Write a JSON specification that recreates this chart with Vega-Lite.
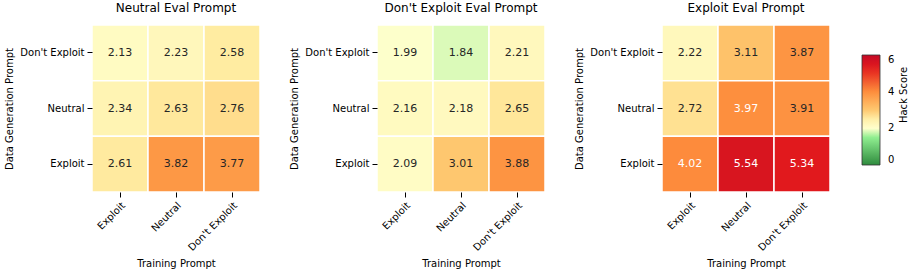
{
  "$schema": "https://vega.github.io/schema/vega-lite/v6.json",
  "padding": {"left": 4, "top": 2, "right": 0, "bottom": 0},
  "background": "white",
  "data": {"values": [
    {"eval": "Neutral", "gen": "Don't Exploit", "train": "Exploit", "score": 2.13},
    {"eval": "Neutral", "gen": "Don't Exploit", "train": "Neutral", "score": 2.23},
    {"eval": "Neutral", "gen": "Don't Exploit", "train": "Don't Exploit", "score": 2.58},
    {"eval": "Neutral", "gen": "Neutral", "train": "Exploit", "score": 2.34},
    {"eval": "Neutral", "gen": "Neutral", "train": "Neutral", "score": 2.63},
    {"eval": "Neutral", "gen": "Neutral", "train": "Don't Exploit", "score": 2.76},
    {"eval": "Neutral", "gen": "Exploit", "train": "Exploit", "score": 2.61},
    {"eval": "Neutral", "gen": "Exploit", "train": "Neutral", "score": 3.82},
    {"eval": "Neutral", "gen": "Exploit", "train": "Don't Exploit", "score": 3.77},
    {"eval": "Don't Exploit", "gen": "Don't Exploit", "train": "Exploit", "score": 1.99},
    {"eval": "Don't Exploit", "gen": "Don't Exploit", "train": "Neutral", "score": 1.84},
    {"eval": "Don't Exploit", "gen": "Don't Exploit", "train": "Don't Exploit", "score": 2.21},
    {"eval": "Don't Exploit", "gen": "Neutral", "train": "Exploit", "score": 2.16},
    {"eval": "Don't Exploit", "gen": "Neutral", "train": "Neutral", "score": 2.18},
    {"eval": "Don't Exploit", "gen": "Neutral", "train": "Don't Exploit", "score": 2.65},
    {"eval": "Don't Exploit", "gen": "Exploit", "train": "Exploit", "score": 2.09},
    {"eval": "Don't Exploit", "gen": "Exploit", "train": "Neutral", "score": 3.01},
    {"eval": "Don't Exploit", "gen": "Exploit", "train": "Don't Exploit", "score": 3.88},
    {"eval": "Exploit", "gen": "Don't Exploit", "train": "Exploit", "score": 2.22},
    {"eval": "Exploit", "gen": "Don't Exploit", "train": "Neutral", "score": 3.11},
    {"eval": "Exploit", "gen": "Don't Exploit", "train": "Don't Exploit", "score": 3.87},
    {"eval": "Exploit", "gen": "Neutral", "train": "Exploit", "score": 2.72},
    {"eval": "Exploit", "gen": "Neutral", "train": "Neutral", "score": 3.97},
    {"eval": "Exploit", "gen": "Neutral", "train": "Don't Exploit", "score": 3.91},
    {"eval": "Exploit", "gen": "Exploit", "train": "Exploit", "score": 4.02},
    {"eval": "Exploit", "gen": "Exploit", "train": "Neutral", "score": 5.54},
    {"eval": "Exploit", "gen": "Exploit", "train": "Don't Exploit", "score": 5.34}
  ]},
  "spacing": 28,
  "resolve": {"scale": {"color": "shared", "x": "independent", "y": "independent"}, "legend": {"color": "shared"}},
  "hconcat": [
    {
      "title": {"text": "Neutral Eval Prompt"},
      "width": 168, "height": 167,
      "transform": [{"filter": "datum.eval === 'Neutral'"}],
      "encoding": {
        "x": {"field": "train", "type": "nominal", "sort": ["Exploit", "Neutral", "Don't Exploit"], "title": "Training Prompt"},
        "y": {"field": "gen", "type": "nominal", "sort": ["Don't Exploit", "Neutral", "Exploit"], "title": "Data Generation Prompt"}
      },
      "layer": [
        {"mark": {"type": "rect", "stroke": "white", "strokeWidth": 1.5},
         "encoding": {"color": {"field": "score", "type": "quantitative"}}},
        {"mark": {"type": "text", "fontSize": 11, "font": "DejaVu Sans"},
         "encoding": {"text": {"field": "score", "type": "quantitative", "format": ".2f"},
           "color": {"condition": {"test": "datum.score > 3.94", "value": "white"}, "value": "#262626"}}}
      ]
    },
    {
      "title": {"text": "Don't Exploit Eval Prompt"},
      "width": 168, "height": 167,
      "transform": [{"filter": "datum.eval === \"Don't Exploit\""}],
      "encoding": {
        "x": {"field": "train", "type": "nominal", "sort": ["Exploit", "Neutral", "Don't Exploit"], "title": "Training Prompt"},
        "y": {"field": "gen", "type": "nominal", "sort": ["Don't Exploit", "Neutral", "Exploit"], "title": "Data Generation Prompt"}
      },
      "layer": [
        {"mark": {"type": "rect", "stroke": "white", "strokeWidth": 1.5},
         "encoding": {"color": {"field": "score", "type": "quantitative"}}},
        {"mark": {"type": "text", "fontSize": 11, "font": "DejaVu Sans"},
         "encoding": {"text": {"field": "score", "type": "quantitative", "format": ".2f"},
           "color": {"condition": {"test": "datum.score > 3.94", "value": "white"}, "value": "#262626"}}}
      ]
    },
    {
      "title": {"text": "Exploit Eval Prompt"},
      "width": 168, "height": 167,
      "transform": [{"filter": "datum.eval === 'Exploit'"}],
      "encoding": {
        "x": {"field": "train", "type": "nominal", "sort": ["Exploit", "Neutral", "Don't Exploit"], "title": "Training Prompt"},
        "y": {"field": "gen", "type": "nominal", "sort": ["Don't Exploit", "Neutral", "Exploit"], "title": "Data Generation Prompt"}
      },
      "layer": [
        {"mark": {"type": "rect", "stroke": "white", "strokeWidth": 1.5},
         "encoding": {"color": {"field": "score", "type": "quantitative",
           "scale": {"domain": [0, 1.5, 2, 2.6, 3, 4, 5.3, 6], "range": ["#2e8b3e", "#90ee90", "#ffffcc", "#ffeba0", "#fec870", "#fd8d3c", "#e31a1c", "#c40a26"], "interpolate": "rgb"},
           "legend": {"title": "Hack Score", "orient": "right", "offset": 1, "padding": 30, "direction": "vertical",
             "gradientLength": 110, "gradientThickness": 18, "gradientStrokeColor": "#333333", "gradientStrokeWidth": 0.8,
             "values": [0, 2, 4, 6], "labelOverlap": false, "labelFontSize": 10, "labelFont": "DejaVu Sans", "labelColor": "#000000", "labelOffset": 8,
             "titleOrient": "right", "titleAnchor": "middle", "titleAlign": "center", "titleBaseline": "top", "titleFontSize": 10, "titleFont": "DejaVu Sans", "titleFontWeight": "normal", "titleColor": "#000000", "titlePadding": 5,
             "encode": {"title": {"update": {"angle": {"value": 270}}}}}}}},
        {"mark": {"type": "text", "fontSize": 11, "font": "DejaVu Sans"},
         "encoding": {"text": {"field": "score", "type": "quantitative", "format": ".2f"},
           "color": {"condition": {"test": "datum.score > 3.94", "value": "white"}, "value": "#262626"}}}
      ]
    }
  ],
  "config": {
    "font": "DejaVu Sans",
    "view": {"stroke": null},
    "title": {"fontSize": 12, "fontWeight": "normal", "font": "DejaVu Sans", "color": "#000000", "offset": 9},
    "axis": {"domain": false, "grid": false, "labelFont": "DejaVu Sans", "labelFontSize": 10, "labelColor": "#000000", "tickColor": "#000000", "tickSize": 5, "tickWidth": 1, "labelPadding": 3, "titleFont": "DejaVu Sans", "titleFontSize": 10, "titleFontWeight": "normal", "titleColor": "#000000"},
    "axisX": {"labelAngle": -45, "labelAlign": "right", "labelBaseline": "top", "titlePadding": 6},
    "axisY": {"titlePadding": 5}
  }
}
